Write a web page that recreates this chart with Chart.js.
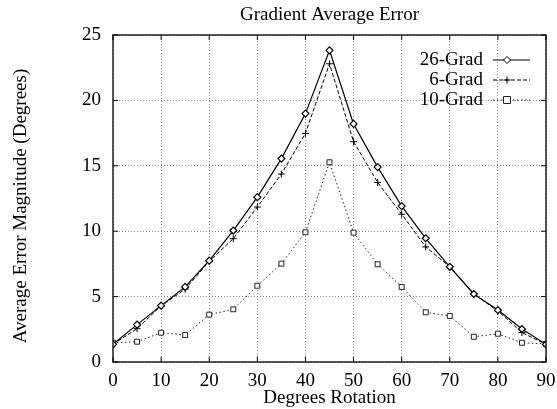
<!DOCTYPE html>
<html>
<head>
<meta charset="utf-8">
<script src="https://cdn.jsdelivr.net/npm/chart.js@4/dist/chart.umd.min.js"></script>
<style>
  html, body { margin: 0; padding: 0; background: #fff; }
  #wrap { width: 557px; height: 409px; }
</style>
</head>
<body>
<div id="wrap"><canvas id="chart" width="557" height="409"></canvas></div>
<script>
// Dados
const degrees = [0, 5, 10, 15, 20, 25, 30, 35, 40, 45, 50, 55, 60, 65, 70, 75, 80, 85, 90];
const grad26 = [1.35, 2.86, 4.31, 5.74, 7.75, 10.05, 12.6, 15.55, 18.99, 23.83, 18.2, 14.9, 11.92, 9.46, 7.28, 5.2, 3.97, 2.52, 1.35];
const grad6 = [1.35, 2.55, 4.3, 5.57, 7.7, 9.43, 11.85, 14.37, 17.48, 22.8, 16.84, 13.73, 11.3, 8.8, 7.28, 5.2, 3.9, 2.25, 1.35];
const grad10 = [1.47, 1.55, 2.24, 2.06, 3.62, 4.03, 5.83, 7.52, 9.92, 15.27, 9.89, 7.47, 5.74, 3.8, 3.52, 1.93, 2.16, 1.47, 1.38];
const seriesNames = ['26-Grad', '6-Grad', '10-Grad'];
const xTicks = [0, 10, 20, 30, 40, 50, 60, 70, 80, 90];
const yTicks = [0, 5, 10, 15, 20, 25];

const serif = "'Liberation Serif', 'DejaVu Serif', serif";

const toPoints = (vals) => degrees.map((d, i) => ({ x: d, y: vals[i] }));

// Título, moldura, marcas e legenda
const framePlugin = {
    id: 'frame',
    afterDraw(chart) {
        const { ctx, chartArea: a, scales } = chart;
        ctx.save();
        ctx.strokeStyle = '#000';
        ctx.lineWidth = 1.3;
        ctx.setLineDash([]);
        ctx.strokeRect(a.left, a.top, a.right - a.left, a.bottom - a.top);

        ctx.lineWidth = 1;
        xTicks.forEach(v => {
            const x = scales.x.getPixelForValue(v);
            ctx.beginPath();
            ctx.moveTo(x, a.bottom); ctx.lineTo(x, a.bottom - 5);
            ctx.moveTo(x, a.top); ctx.lineTo(x, a.top + 5);
            ctx.stroke();
        });
        yTicks.forEach(v => {
            const y = scales.y.getPixelForValue(v);
            ctx.beginPath();
            ctx.moveTo(a.left, y); ctx.lineTo(a.left + 5, y);
            ctx.moveTo(a.right, y); ctx.lineTo(a.right - 5, y);
            ctx.stroke();
        });

        // títulos
        ctx.fillStyle = '#000';
        ctx.font = '19px ' + serif;
        ctx.textAlign = 'center';
        ctx.textBaseline = 'middle';
        ctx.fillText('Gradient Average Error', 329.5, 15);
        ctx.save();
        ctx.translate(21, 206);
        ctx.rotate(-Math.PI / 2);
        ctx.fillText('Average Error Magnitude (Degrees)', 0, 0);
        ctx.restore();

        // legenda
        ctx.textAlign = 'right';
        chart.data.datasets.forEach((ds, i) => {
            const y = 60 + i * 20;
            ctx.fillStyle = '#000';
            ctx.fillText(ds.label, 483, y);
            ctx.strokeStyle = ds.borderColor;
            ctx.lineWidth = ds.borderWidth;
            ctx.setLineDash(ds.borderDash || []);
            ctx.beginPath();
            ctx.moveTo(493, y); ctx.lineTo(530, y);
            ctx.stroke();
            ctx.setLineDash([]);
            const px = 507, r = ds.pointRadius;
            ctx.lineWidth = 1;
            ctx.strokeStyle = ds.pointBorderColor;
            ctx.fillStyle = '#fff';
            ctx.beginPath();
            if (ds.pointStyle === 'rect') {
                ctx.rect(px - r, y - r, 2 * r, 2 * r);
                ctx.fill(); ctx.stroke();
            } else if (ds.pointStyle === 'rectRot') {
                ctx.moveTo(px, y - r); ctx.lineTo(px + r, y); ctx.lineTo(px, y + r); ctx.lineTo(px - r, y); ctx.closePath();
                ctx.fill(); ctx.stroke();
            } else {
                ctx.moveTo(px - r, y); ctx.lineTo(px + r, y);
                ctx.moveTo(px, y - r); ctx.lineTo(px, y + r);
                ctx.stroke();
            }
        });
        ctx.restore();
    }
};

new Chart(document.getElementById('chart'), {
    type: 'line',
    data: {
        datasets: [
            {
                label: seriesNames[0],
                data: toPoints(grad26),
                borderColor: '#000',
                borderWidth: 1.2,
                pointStyle: 'rectRot',
                pointRadius: 3.5,
                pointBackgroundColor: '#fff',
                pointBorderColor: '#000',
                pointBorderWidth: 1.2
            },
            {
                label: seriesNames[1],
                data: toPoints(grad6),
                borderColor: '#000',
                borderWidth: 1,
                borderDash: [4, 2],
                pointStyle: 'cross',
                pointRadius: 3.5,
                pointBorderColor: '#000',
                pointBorderWidth: 1
            },
            {
                label: seriesNames[2],
                data: toPoints(grad10),
                borderColor: '#222',
                borderWidth: 1,
                borderDash: [1.5, 2.5],
                pointStyle: 'rect',
                pointRadius: 3.5,
                pointBackgroundColor: '#fff',
                pointBorderColor: '#222',
                pointBorderWidth: 1
            }
        ]
    },
    options: {
        responsive: false,
        animation: false,
        layout: { padding: { top: 35, right: 11, left: 0, bottom: 0 } },
        plugins: {
            legend: { display: false },
            tooltip: { enabled: false }
        },
        scales: {
            x: {
                type: 'linear',
                min: 0,
                max: 90,
                afterFit(scale) { scale.height = 47; scale.paddingLeft = 0; scale.paddingRight = 0; },
                afterBuildTicks(scale) { scale.ticks = xTicks.map(v => ({ value: v })); },
                ticks: { color: '#000', font: { family: serif, size: 19 }, padding: 8, maxRotation: 0 },
                grid: { color: '#888', tickLength: 0, drawTicks: false },
                border: { display: false, dash: [1, 2] },
                title: { display: true, text: 'Degrees Rotation', color: '#000', font: { family: serif, size: 19 }, padding: { top: 0, bottom: 0 } }
            },
            y: {
                min: 0,
                max: 25,
                afterFit(scale) { scale.width = 113; scale.paddingTop = 0; scale.paddingBottom = 0; },
                afterBuildTicks(scale) { scale.ticks = yTicks.map(v => ({ value: v })); },
                ticks: { color: '#000', font: { family: serif, size: 19 }, padding: 12 },
                grid: { color: '#888', drawTicks: false },
                border: { display: false, dash: [1, 2] }
            }
        }
    },
    plugins: [framePlugin]
});
</script>
</body>
</html>
